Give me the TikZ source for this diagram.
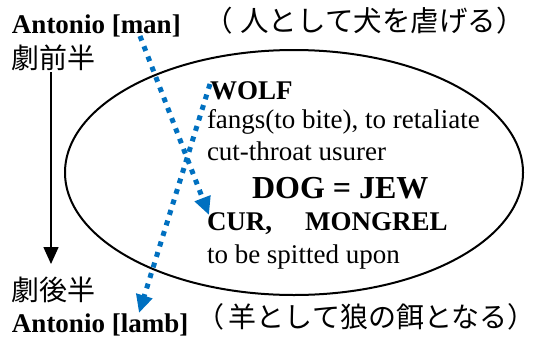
\documentclass[tikz,border=0pt]{standalone}
\usepackage{fontspec}
\setmainfont{Liberation Serif}
\newfontfamily\jp{Noto Sans CJK JP}
\usetikzlibrary{arrows.meta}
\definecolor{arrowblue}{HTML}{0070C0}
\tikzset{
  txt/.style={inner sep=0pt, outer sep=0pt, anchor=base west, font=\fontsize{27}{30}\selectfont},
  btxt/.style={txt, font=\fontsize{27}{30}\selectfont\bfseries},
  jtxt/.style={inner sep=0pt, outer sep=0pt, anchor=west, font=\fontsize{28.5}{30}\selectfont\jp},
  jlabel/.style={inner sep=0pt, outer sep=0pt, anchor=center, font=\fontsize{28}{30}\selectfont\jp},
  dotarrow/.style={draw=arrowblue, line width=5pt, dash pattern=on 5pt off 6pt,
     -{Triangle[length=18pt,width=16pt,fill=arrowblue]}},
  blackarrow/.style={draw=black, line width=1.5pt, -{Triangle[length=17pt,width=15pt]}},
  oval/.style={draw=black, line width=2pt}
}
\begin{document}
\begin{tikzpicture}[x=1pt,y=-1pt]
\useasboundingbox (0,0) rectangle (538,341);
% ellipse
\draw[oval] (294,172.5) ellipse [x radius=229, y radius=122.5];
% top texts
\node[btxt] (man) at (12,33) {Antonio [man]};
\node[jtxt] (manjp) at (204,21) {（\kern8pt 人として犬を虐げる）};
\node[jlabel] (zen) at (53,58) {劇前半};
\node[jlabel] (kou) at (53,290) {劇後半};
\node[btxt] (lamb) at (12,332) {Antonio [lamb]};
\node[jtxt, font=\fontsize{28}{30}\selectfont\jp] (lambjp) at (196,317) {（\kern5pt 羊として狼の餌となる）};
% inner texts
\node[btxt] (wolf) at (210,99) {WOLF};
\node[txt] (fangs) at (207,128) {fangs(to bite), to retaliate};
\node[txt] (cut) at (207,160) {cut-throat usurer};
\node[txt, font=\fontsize{32}{34}\selectfont\bfseries] (dog) at (252,198) {DOG = JEW};
\node[btxt] (cur) at (207,230) {CUR,\hspace*{33pt}MONGREL};
\node[txt] (spit) at (207,263) {to be spitted upon};
% arrows
\coordinate (a1s) at (140,36);
\coordinate (a1e) at (209,215);
\coordinate (a2s) at (210,84);
\coordinate (a2e) at (139,313);
\coordinate (bs) at (51,72);
\coordinate (be) at (51,264);
\draw[blackarrow] (bs) -- (be);
\draw[dotarrow] (a1s) -- (a1e);
\draw[dotarrow] (a2s) -- (a2e);
\end{tikzpicture}
\end{document}
